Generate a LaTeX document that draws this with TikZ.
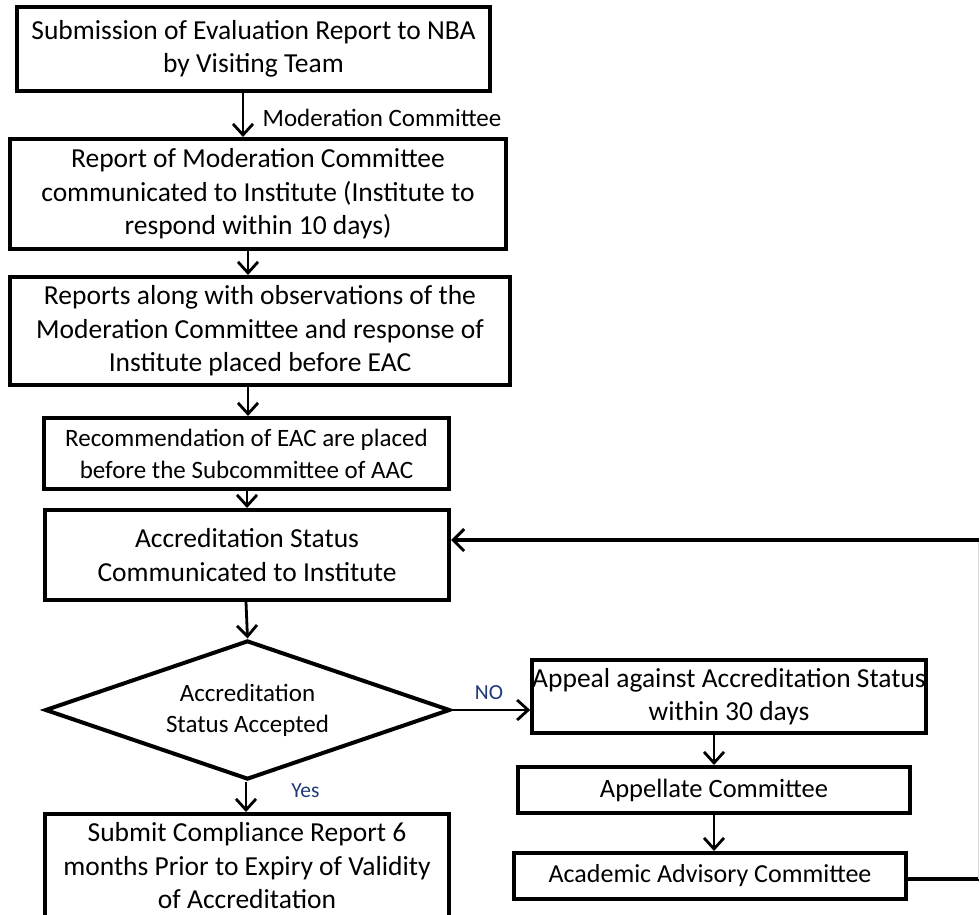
\documentclass[tikz,border=0pt]{standalone}
\usepackage{fontspec}
\setmainfont{Carlito}
\usetikzlibrary{arrows.meta,shapes.geometric,calc}
\definecolor{navy}{RGB}{31,56,120}
\tikzset{
  box/.style={draw=black, line width=4pt, fill=white, inner sep=0pt, align=center,
    font=\fontsize{27.5}{33.5}\selectfont},
  smallbox/.style={box, font=\fontsize{25}{32}\selectfont},
  arr/.style={line width=2.8pt, -{Straight Barb[length=11pt,width=20pt,line width=2.8pt]}},
  fb/.style={line width=4pt},
  lbl/.style={inner sep=0pt, font=\fontsize{25}{30}\selectfont},
  yn/.style={inner sep=0pt, text=navy, font=\fontsize{21.5}{26}\selectfont}
}
\begin{document}
\begin{tikzpicture}[x=1pt,y=-1pt]
\useasboundingbox[fill=white] (0,0) rectangle (980,915);

\node[box, minimum width=473pt, minimum height=84pt] (b1) at (253.5,49)
  {Submission of Evaluation Report to NBA\\by Visiting Team};
\node[box, minimum width=496pt, minimum height=110pt] (b2) at (258,194)
  {Report of Moderation Committee\\communicated to Institute (Institute to\\respond within 10 days)};
\node[box, minimum width=500pt, minimum height=108pt] (b3) at (260,331)
  {Reports along with observations of the\\Moderation Committee and response of\\Institute placed before EAC};
\node[smallbox, minimum width=405pt, minimum height=71pt] (b4) at (246.5,453.5)
  {Recommendation of EAC are placed\\before the Subcommittee of AAC};
\node[box, minimum width=404pt, minimum height=90pt] (b5) at (247,555)
  {Accreditation Status\\Communicated to Institute};
\node[draw=black, line width=4pt, diamond, shape aspect=2.9, inner sep=0pt,
  minimum width=405pt, minimum height=139pt, align=center,
  font=\fontsize{25}{31}\selectfont] (d) at (247.5,710)
  {Accreditation\\Status Accepted};
\node[box, minimum width=404pt, minimum height=104pt, anchor=north] (b6) at (247,812)
  {Submit Compliance Report 6\\months Prior to Expiry of Validity\\of Accreditation};

\node[box, minimum width=392pt, minimum height=73pt] (ap) at (729,696.5)
  {Appeal against Accreditation Status\\within 30 days};
\node[box, minimum width=392pt, minimum height=46pt, font=\fontsize{26.5}{32}\selectfont] (ac) at (714,790)
  {Appellate Committee};
\node[box, minimum width=392pt, minimum height=46pt, font=\fontsize{26}{32}\selectfont] (aac) at (710,876)
  {Academic Advisory Committee};

\node[lbl] (lmod) at (382,118) {Moderation Committee};
\node[yn] (lno) at (489,693) {NO};
\node[yn] (lyes) at (305.5,791) {Yes};

\draw[arr] ([xshift=-10.5pt]b1.south) -- ([xshift=-15pt]b2.north);
\draw[arr] ([xshift=-10pt]b2.south) -- ([xshift=-12pt]b3.north);
\draw[arr] ([xshift=-12pt]b3.south) -- ([xshift=1.5pt]b4.north);
\draw[arr] ([xshift=0.5pt]b4.south) -- (b5.north);
\draw[arr] ([xshift=-1pt]b5.south) -- (d.north);
\draw[arr] ([xshift=-1.5pt]d.south) -- ([xshift=-1pt]b6.north);
\draw[arr] (d.east) -- (ap.west |- d.east);
\draw[arr] ([xshift=-15pt]ap.south) -- (ac.north);
\draw[arr] (ac.south) -- ([xshift=4pt]aac.north);

\coordinate (c1) at (978.5,879);
\coordinate (c2) at (978.5,540);
\draw[fb] (aac.east |- c1) -- (c1);
\draw[line width=0.8pt, black!15] (c1) -- (c2);
\draw[fb, -{Straight Barb[length=11pt,width=22pt,line width=3pt]}] (c2) -- (b5.east |- c2);
\end{tikzpicture}
\end{document}
